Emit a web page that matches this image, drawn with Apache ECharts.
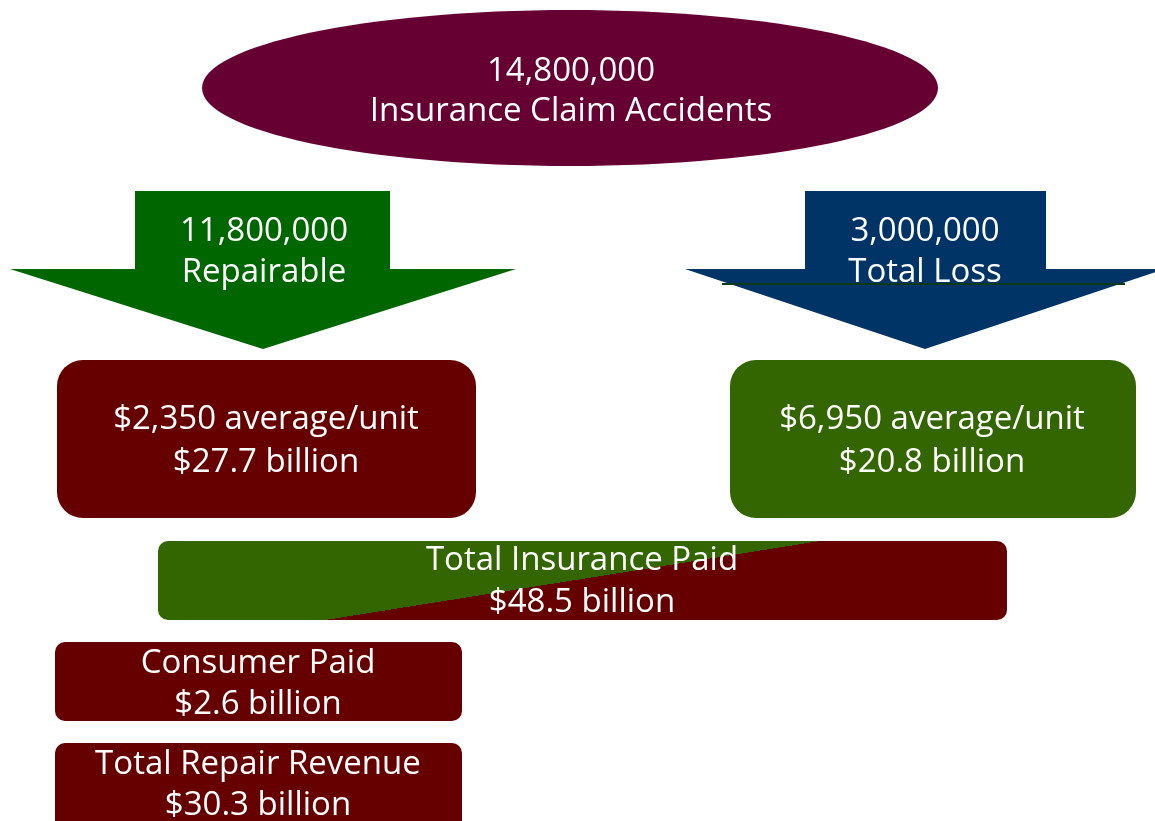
<!DOCTYPE html>
<html>
<head>
<meta charset="utf-8">
<script src="https://cdn.jsdelivr.net/npm/echarts@6/dist/echarts.min.js"></script>
<style>
html,body{margin:0;padding:0;background:#fff;}
#chart{width:1155px;height:821px;}
</style>
</head>
<body>
<div id="chart"></div>
<script>
// ---- data ----
const stageNames = ['Insurance Claim Accidents', 'Repairable', 'Total Loss'];
const stageCounts = [14800000, 11800000, 3000000];
const avgPerUnit = [2350, 6950];
const segmentBillions = [27.7, 20.8];
const summaryNames = ['Total Insurance Paid', 'Consumer Paid', 'Total Repair Revenue'];
const summaryBillions = [48.5, 2.6, 30.3];

// ---- helpers ----
const fmtInt = v => v.toLocaleString('en-US');
const fmtBil = v => '$' + v.toFixed(1) + ' billion';
const FONT = '33px "Open Sans", Lato, sans-serif';
const RED = '#660000', GREEN = '#336600', PLUM = '#660033', DKGREEN = '#006600', NAVY = '#003366';
const DY = 2;

function twoLine(cx, y1, y2, a, b) {
  return [
    {type: 'text', z: 10, style: {text: a, x: cx, y: y1 + DY, fill: '#fff', font: FONT, textAlign: 'center', textVerticalAlign: 'middle'}},
    {type: 'text', z: 10, style: {text: b, x: cx, y: y2 + DY, fill: '#fff', font: FONT, textAlign: 'center', textVerticalAlign: 'middle'}}
  ];
}
function downArrow(shaftL, shaftR, top, headY, headL, headR, tipX, tipY) {
  return [[shaftL, top], [shaftR, top], [shaftR, headY], [headR, headY], [tipX, tipY], [headL, headY], [shaftL, headY]];
}

const elements = [];
// top ellipse
elements.push({type: 'ellipse', shape: {cx: 570, cy: 88, rx: 368, ry: 78}, style: {fill: PLUM}});
elements.push(...twoLine(571, 70, 110, fmtInt(stageCounts[0]), stageNames[0]));

// arrows
elements.push({type: 'polygon', shape: {points: downArrow(135, 390, 191, 269, 10, 516, 263, 349)}, style: {fill: DKGREEN}});
elements.push(...twoLine(264, 230, 271, fmtInt(stageCounts[1]), stageNames[1]));
elements.push({type: 'polygon', shape: {points: downArrow(805, 1046, 191, 269, 685, 1165, 925, 349)}, style: {fill: NAVY}});
elements.push({type: 'line', z: 5, shape: {x1: 722, y1: 284, x2: 1125, y2: 284}, style: {stroke: '#0a3a1a', lineWidth: 2}});
elements.push(...twoLine(925, 230, 271, fmtInt(stageCounts[2]), stageNames[2]));

// per-unit boxes
elements.push({type: 'rect', shape: {x: 57, y: 360, width: 419, height: 158, r: 26}, style: {fill: RED}});
elements.push(...twoLine(266, 418, 461, '$' + fmtInt(avgPerUnit[0]) + ' average/unit', fmtBil(segmentBillions[0])));
elements.push({type: 'rect', shape: {x: 730, y: 360, width: 406, height: 158, r: 26}, style: {fill: GREEN}});
elements.push(...twoLine(932, 418, 461, '$' + fmtInt(avgPerUnit[1]) + ' average/unit', fmtBil(segmentBillions[1])));

// total insurance paid (diagonal split)
elements.push({type: 'rect', shape: {x: 158, y: 541, width: 849, height: 79, r: 10},
  style: {fill: new echarts.graphic.LinearGradient(525.2, 284.3, 619.8, 876.7, [
    {offset: 0, color: GREEN}, {offset: 0.5, color: GREEN}, {offset: 0.5, color: RED}, {offset: 1, color: RED}], true)}});
elements.push(...twoLine(582, 559, 601, summaryNames[0], fmtBil(summaryBillions[0])));

// consumer paid
elements.push({type: 'rect', shape: {x: 55, y: 642, width: 407, height: 79, r: 10}, style: {fill: RED}});
elements.push(...twoLine(258, 662, 703, summaryNames[1], fmtBil(summaryBillions[1])));

// total repair revenue
elements.push({type: 'rect', shape: {x: 55, y: 743, width: 407, height: 100, r: 10}, style: {fill: RED}});
elements.push(...twoLine(258, 763, 804, summaryNames[2], fmtBil(summaryBillions[2])));

const chart = echarts.init(document.getElementById('chart'), null, {renderer: 'canvas'});
chart.setOption({
  backgroundColor: '#ffffff',
  animation: false,
  graphic: {elements: elements}
});
</script>
</body>
</html>
